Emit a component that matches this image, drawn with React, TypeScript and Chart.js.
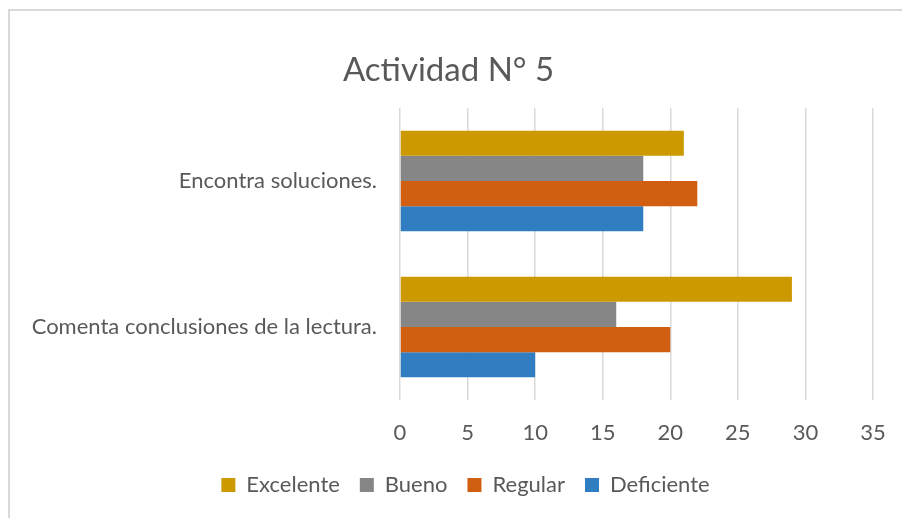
import React, { useEffect, useRef } from "react";
import { Chart, registerables } from "chart.js";

Chart.register(...registerables);

const categories = ["Encontra soluciones.", "Comenta conclusiones de la lectura."];
const seriesNames = ["Excelente", "Bueno", "Regular", "Deficiente"];
const excelente = [21, 29];
const bueno = [18, 16];
const regular = [22, 20];
const deficiente = [18, 10];
const seriesColors = ["#CC9900", "#868686", "#D15F11", "#317DC1"];
const xTicks = [0, 5, 10, 15, 20, 25, 30, 35];
const titleText = "Actividad N° 5";

const FONT = "Lato";
const TEXT = "#595959";

const legendShift = {
  id: "legendShift",
  afterLayout(chart: any) {
    const lg = chart.legend;
    if (lg) {
      lg.left += 17;
      lg.right += 17;
    }
  },
};

export default function App() {
  const ref = useRef<HTMLCanvasElement | null>(null);

  useEffect(() => {
    if (!ref.current) return;
    const values = [excelente, bueno, regular, deficiente];
    const chart = new Chart(ref.current, {
      type: "bar",
      data: {
        labels: categories,
        datasets: seriesNames.map((name, i) => ({
          label: name,
          data: values[i],
          backgroundColor: seriesColors[i],
          borderWidth: 0,
          categoryPercentage: 0.69,
          barPercentage: 1,
        })),
      },
      plugins: [legendShift],
      options: {
        indexAxis: "y",
        animation: false,
        responsive: false,
        devicePixelRatio: 1,
        layout: { padding: { left: 24, right: 29, top: 0, bottom: 12 } },
        scales: {
          x: {
            min: xTicks[0],
            max: xTicks[xTicks.length - 1],
            ticks: {
              stepSize: 5,
              color: TEXT,
              font: { family: FONT, size: 22 },
              padding: 20,
            },
            grid: { color: "#d9d9d9", lineWidth: 1.5, drawTicks: false },
            border: { display: false },
            afterFit: (s: any) => {
              s.height = 54;
              s.paddingRight = 0;
              s.paddingLeft = 0;
            },
          },
          y: {
            ticks: {
              color: TEXT,
              font: { family: FONT, size: 22 },
              padding: 23,
            },
            grid: { display: false, drawTicks: false },
            border: { display: false },
            afterFit: (s: any) => {
              s.width = 376;
              s.paddingTop = 0;
              s.paddingBottom = 0;
            },
          },
        },
        plugins: {
          title: {
            display: true,
            text: titleText,
            color: TEXT,
            font: { family: FONT, size: 33, weight: "normal" },
            padding: { top: 51, bottom: 17.4 },
          },
          legend: {
            position: "bottom",
            labels: {
              boxWidth: 14,
              boxHeight: 14,
              color: TEXT,
              font: { family: FONT, size: 22 },
              padding: 20,
            },
          },
          tooltip: { enabled: false },
        },
      },
    });
    return () => chart.destroy();
  }, []);

  return (
    <div
      style={{
        position: "fixed",
        left: 0,
        top: 0,
        width: 902,
        height: 518,
        overflow: "hidden",
        background: "#ffffff",
      }}
    >
      <canvas
        ref={ref}
        width={902}
        height={518}
        style={{ position: "absolute", left: 0, top: 0, width: 902, height: 518 }}
      />
      <div
        style={{
          position: "absolute",
          left: 8,
          top: 9,
          width: 1000,
          height: 1000,
          borderLeft: "2px solid #d9d9d9",
          borderTop: "2px solid #d9d9d9",
          pointerEvents: "none",
        }}
      />
    </div>
  );
}
